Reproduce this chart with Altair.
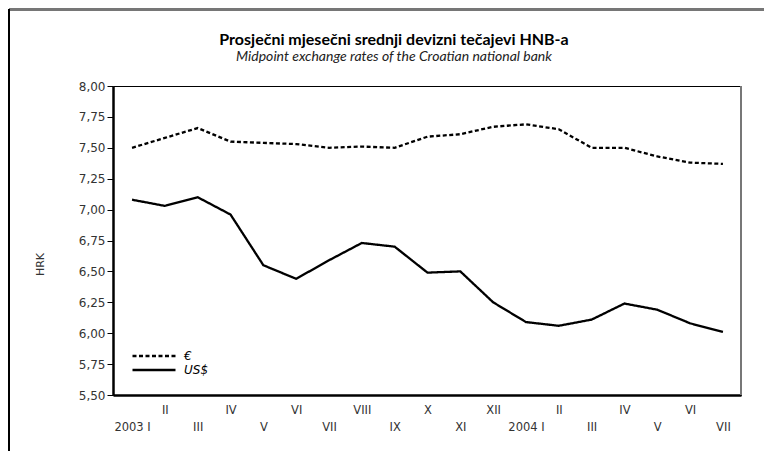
import json
import altair as alt
import pandas as pd

months = ["2003 I", "II", "III", "IV", "V", "VI", "VII", "VIII", "IX", "X", "XI", "XII",
          "2004 I", "II", "III", "IV", "V", "VI", "VII"]
eur = [7.50, 7.58, 7.66, 7.55, 7.54, 7.53, 7.50, 7.51, 7.50, 7.59, 7.61, 7.67,
       7.69, 7.65, 7.50, 7.50, 7.43, 7.38, 7.37]
usd = [7.08, 7.03, 7.10, 6.96, 6.55, 6.44, 6.59, 6.73, 6.70, 6.49, 6.50, 6.25,
       6.09, 6.06, 6.11, 6.24, 6.19, 6.08, 6.01]
series = ["€", "US$"]

rows = []
for i in range(len(months)):
    rows.append({"i": i, "serija": series[0], "v": eur[i]})
    rows.append({"i": i, "serija": series[1], "v": usd[i]})
df = pd.DataFrame(rows)

W, H = 628, 309
FONT = "DejaVu Sans"

label_expr = json.dumps(months) + "[datum.value]"

lines = alt.Chart(df).mark_line(strokeWidth=2.3, color="black").encode(
    x=alt.X("i:Q", scale=alt.Scale(domain=[-0.58, 18.55], nice=False, zero=False),
            axis=alt.Axis(values=list(range(len(months))), labelExpr=label_expr,
                          ticks=False, grid=False, domainColor="black", domainWidth=2.5,
                          labelFont=FONT, labelFontSize=11.5, labelColor="#333",
                          labelPadding={"condition": {"test": "datum.value % 2 == 0", "value": 26}, "value": 9},
                          labelFlush=False, labelOverlap=False, title=None)),
    y=alt.Y("v:Q", scale=alt.Scale(domain=[5.5, 8.0], nice=False, zero=False),
            axis=alt.Axis(values=[5.5 + 0.25 * k for k in range(11)],
                          labelExpr="replace(format(datum.value, '.2f'), '.', ',')",
                          grid=False, domainColor="black", domainWidth=2.5,
                          tickColor="black", tickSize=6, tickWidth=1,
                          labelFont=FONT, labelFontSize=12, labelColor="#333", labelPadding=2,
                          title="HRK", titleFont=FONT, titleFontSize=11, titleFontWeight="normal",
                          titleColor="#333", titleX=-68, titleY=178, titleAngle=270)),
    strokeDash=alt.StrokeDash("serija:N",
                              scale=alt.Scale(domain=series, range=[[4, 2.5], [1, 0]]),
                              legend=alt.Legend(title=None, orient="none", legendX=35, legendY=264,
                                                symbolType="M-5,0H5", symbolSize=74,
                                                symbolStrokeWidth=2.5, symbolStrokeColor="black",
                                                labelFont=FONT, labelFontSize=12, labelFontStyle="italic",
                                                labelColor="black", rowPadding=2, labelOffset=24)),
)

right_edge = alt.Chart(df).mark_rule(color="#777", strokeWidth=2).encode(
    x=alt.value(W), y=alt.value(0), y2=alt.value(H))
top_border = alt.Chart(df).mark_rule(color="#777", strokeWidth=2).encode(
    x=alt.value(-104), x2=alt.value(W + 30), y=alt.value(-76.5))
left_border = alt.Chart(df).mark_rule(color="black", strokeWidth=1.5).encode(
    x=alt.value(-104), y=alt.value(-77), y2=alt.value(H + 80))

chart = alt.layer(lines, right_edge, top_border, left_border).properties(
    width=W, height=H,
    autosize=alt.AutoSizeParams(type="none"),
    padding={"left": 105, "top": 78, "right": 23, "bottom": 56},
    title=alt.TitleParams(
        text="Prosječni mjesečni srednji devizni tečajevi HNB-a",
        subtitle="Midpoint exchange rates of the Croatian national bank",
        font="Lato", fontSize=16, fontWeight="bold", color="black",
        subtitleFont="Lato", subtitleFontSize=14, subtitleFontStyle="italic", subtitleColor="#222",
        anchor="middle", offset=16, subtitlePadding=2, dy=72, dx=-33),
).configure_view(stroke="black", strokeWidth=1)

chart.save("out.html", embed_options={"renderer": "svg", "actions": False})
